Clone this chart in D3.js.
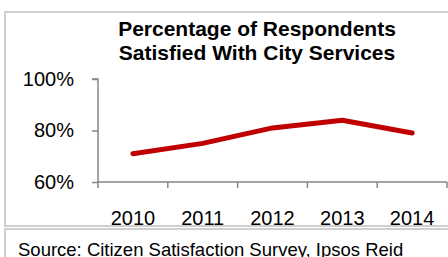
<!DOCTYPE html>
<html>
<head>
<meta charset="utf-8">
<script src="https://cdn.jsdelivr.net/npm/d3@7"></script>
<style>
  body { margin: 0; background: #fff; }
  svg { display: block; font-family: "Liberation Sans", Arial, sans-serif; }
  .axis path, .axis line { stroke: #868686; stroke-width: 1.5px; }
  .axis text { fill: #000; font-size: 20px; }
</style>
</head>
<body>
<div id="chart"></div>
<script>
// data
var years = ["2010", "2011", "2012", "2013", "2014"];
var satisfied = [0.71, 0.75, 0.81, 0.84, 0.79];
var yTicks = [0.6, 0.8, 1.0];
var titleLines = ["Percentage of Respondents", "Satisfied With City Services"];
var source = "Source: Citizen Satisfaction Survey, Ipsos Reid";

var W = 448, H = 257;
var plot = {left: 98, right: 447, top: 79, bottom: 182};

var svg = d3.select("#chart")
            .append("svg")
            .attr("width", W)
            .attr("height", H);

//chart box and source box outlines
svg.append("rect")
   .attr("x", 5).attr("y", 12)
   .attr("width", 520).attr("height", 214)
   .attr("fill", "none")
   .attr("stroke", "#cfcfcf")
   .attr("stroke-width", 2);

svg.append("rect")
   .attr("x", 5).attr("y", 229)
   .attr("width", 520).attr("height", 60)
   .attr("fill", "none")
   .attr("stroke", "#cfcfcf")
   .attr("stroke-width", 2);

//title
svg.selectAll(".title")
   .data(titleLines)
   .enter()
   .append("text")
   .attr("class", "title")
   .attr("x", 257)
   .attr("y", function(d, i) { return 36 + i * 24; })
   .attr("text-anchor", "middle")
   .style("font-size", "21px")
   .style("font-weight", "bold")
   .text(function(d) { return d; });

//scales
var xScale = d3.scaleBand()
               .domain(years)
               .range([plot.left, plot.right]);

var yScale = d3.scaleLinear()
               .domain([0.6, 1.0])
               .range([plot.bottom, plot.top]);

//y axis
var yAxis = d3.axisLeft(yScale)
              .tickValues(yTicks)
              .tickSize(6)
              .tickPadding(18)
              .tickFormat(d3.format(".0%"));

svg.append("g")
   .attr("class", "axis y-axis")
   .attr("transform", "translate(" + plot.left + ",0)")
   .call(yAxis)
   .select(".domain")
   .attr("d", "M-6," + plot.top + "H0V" + plot.bottom);

//x axis, labels centred in each band
var xAxis = d3.axisBottom(xScale)
              .tickSize(0)
              .tickPadding(29);

var gx = svg.append("g")
   .attr("class", "axis x-axis")
   .attr("transform", "translate(0," + plot.bottom + ")")
   .call(xAxis);

gx.select(".domain").attr("d", "M" + plot.left + ",0H" + plot.right);

//tick marks between the categories
var edges = years.map(function(d) { return xScale(d); }).concat([xScale.range()[1]]);
gx.selectAll(".edge")
  .data(edges)
  .enter()
  .append("line")
  .attr("class", "edge")
  .attr("x1", function(d) { return d; })
  .attr("x2", function(d) { return d; })
  .attr("y1", 0)
  .attr("y2", 6);

//the line
var line = d3.line()
             .x(function(d, i) { return xScale(years[i]) + xScale.bandwidth() / 2; })
             .y(function(d) { return yScale(d); });

svg.append("path")
   .datum(satisfied)
   .attr("d", line)
   .attr("fill", "none")
   .attr("stroke", "#c00000")
   .attr("stroke-width", 5)
   .attr("stroke-linecap", "round")
   .attr("stroke-linejoin", "round");

//source note
svg.append("text")
   .attr("x", 18)
   .attr("y", 256)
   .style("font-size", "18.5px")
   .text(source);
</script>
</body>
</html>
